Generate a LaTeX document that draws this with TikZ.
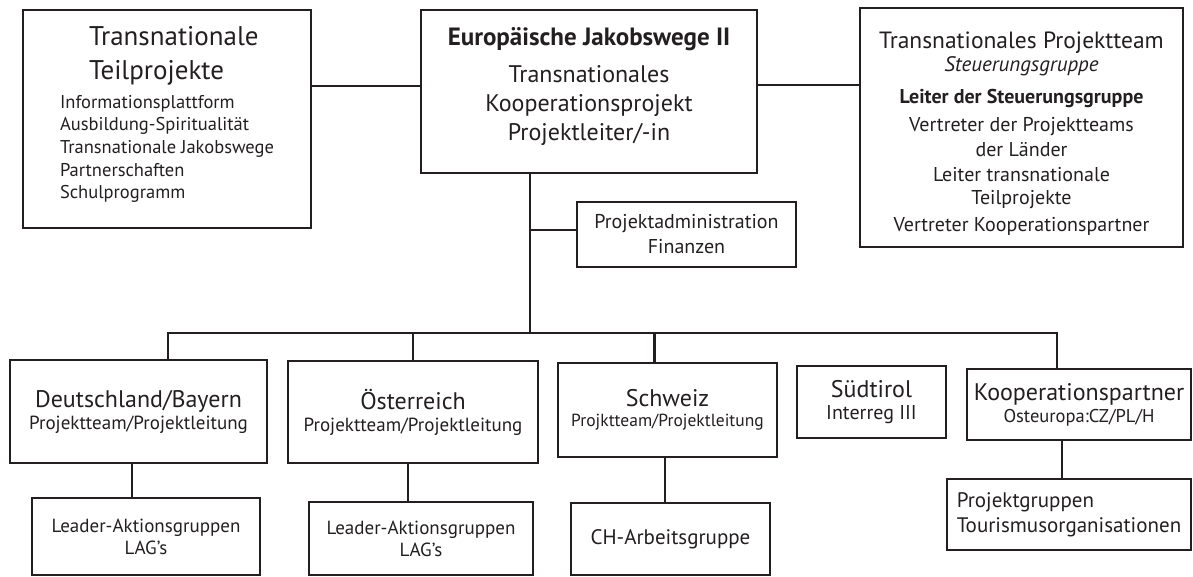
\documentclass[tikz,border=0pt]{standalone}
\usepackage{fontspec}
\setmainfont{PT Sans}
\usetikzlibrary{positioning}
\definecolor{ink}{RGB}{35,31,32}
\newcommand{\txtsize}[1]{\fontsize{#1}{#1}\selectfont}

\begin{document}
\begin{tikzpicture}[x=1pt, y=-1pt, color=ink,
  bigbox/.style={rectangle, draw, line width=2.6pt, inner sep=0pt, align=center},
  smallbox/.style={rectangle, draw, line width=1.3pt, inner sep=0pt, align=center},
  bus/.style={line width=2.6pt},
  link/.style={line width=1.3pt}]
\useasboundingbox (0,0) rectangle (1193,576);

% Top row
\node[bigbox, minimum width=288pt, minimum height=218pt, align=left, text depth=13pt,
  font=\fontsize{18}{22.7}\selectfont] (tp) at (167,119)
  {\txtsize{27}\hspace*{29pt}Transnationale\\[11.3pt]
   \txtsize{27}\hspace*{29pt}Teilprojekte\\[6.3pt]
   \txtsize{18.5}Informationsplattform\\
   \txtsize{18.5}Ausbildung-Spiritualität\\
   \txtsize{18.5}Transnationale Jakobswege\\
   \txtsize{18.5}Partnerschaften\\
   \txtsize{18.5}Schulprogramm};

\node[bigbox, minimum width=336pt, minimum height=163pt, text depth=15pt,
  font=\fontsize{24}{29}\selectfont] (jakob) at (589,91.5)
  {\txtsize{25}\bfseries Europäische Jakobswege II\\[8pt]
   Transnationales\\
   Kooperationsprojekt\\
   Projektleiter/-in};

\node[bigbox, minimum width=323pt, minimum height=239pt, text height=212pt,
  font=\fontsize{20}{25}\selectfont] (team) at (1021.5,127.5)
  {\txtsize{23.5}Transnationales Projektteam\\[-2pt]
   \txtsize{21}\itshape Steuerungsgruppe\\[7pt]
   \bfseries Leiter der Steuerungsgruppe\\[3pt]
   Vertreter der Projektteams\\
   der Länder\\
   Leiter transnationale\\[-2pt]
   Teilprojekte\\[2pt]
   Vertreter Kooperationspartner};

\node[smallbox, minimum width=219pt, minimum height=65pt,
  font=\fontsize{20}{25}\selectfont] (admin) at (686.5,234.5)
  {Projektadministration\\ Finanzen};

% Countries
\node[bigbox, minimum width=257pt, minimum height=103pt,
  font=\fontsize{19}{22}\selectfont] (de) at (138.5,411.5)
  {\txtsize{24}Deutschland/Bayern\\
   Projektteam/Projektleitung};
\node[bigbox, minimum width=250pt, minimum height=102pt,
  font=\fontsize{19}{22}\selectfont] (at) at (413,412)
  {\txtsize{24}Österreich\\
   Projektteam/Projektleitung};
\node[bigbox, minimum width=219pt, minimum height=94pt,
  font=\fontsize{17.5}{20}\selectfont] (ch) at (667.5,410)
  {\txtsize{24}Schweiz\\
   Projktteam/Projektleitung};
\node[smallbox, minimum width=149pt, minimum height=72pt,
  font=\fontsize{20}{22}\selectfont] (st) at (871.5,402)
  {\txtsize{24}Südtirol\\
   Interreg III};
\node[smallbox, minimum width=224pt, minimum height=71pt,
  font=\fontsize{18.5}{22}\selectfont] (koop) at (1079,404.5)
  {\txtsize{24}Kooperationspartner\\
   Osteuropa:CZ/PL/H};

% Working groups
\node[smallbox, minimum width=228pt, minimum height=77pt,
  font=\fontsize{19}{22}\selectfont] (lag1) at (146,536.5)
  {Leader-Aktionsgruppen\\ LAG’s};
\node[smallbox, minimum width=224pt, minimum height=73pt,
  font=\fontsize{19}{22}\selectfont] (lag2) at (421,538.5)
  {Leader-Aktionsgruppen\\ LAG’s};
\node[smallbox, minimum width=199pt, minimum height=72pt,
  font=\fontsize{21}{25}\selectfont] (chag) at (670.5,539)
  {CH-Arbeitsgruppe};
\node[smallbox, minimum width=244pt, minimum height=71pt, align=left,
  font=\fontsize{21}{25}\selectfont] (pg) at (1069,514.5)
  {Projektgruppen\\ Tourismusorganisationen};

% Connections
\coordinate (hub) at (530,333);
\coordinate (busL) at (168,333);
\coordinate (busR) at (1057,333);
\draw[bus] (tp.east |- 0,86) -- (jakob.west |- 0,86);
\draw[bus] (jakob.east |- 0,85) -- (team.west |- 0,85);
\draw[bus] (jakob.south -| hub) -- (hub);
\draw[link] (hub |- 0,230) -- ([yshift=4.5pt]admin.west);
\draw[bus] (de.north -| busL) -- (busL) -- (busR) -- (koop.north -| busR);
\draw[bus] (at.north) -- (at.north |- hub);
\draw[bus] ([xshift=-13pt]ch.north) -- ([xshift=-13pt]ch.north |- hub);
\draw[link] ([xshift=-14pt]lag1.north) -- ([xshift=-14pt]lag1.north |- de.south);
\draw[link] ([xshift=-13pt]lag2.north) -- ([xshift=-13pt]lag2.north |- at.south);
\draw[link] ([xshift=-5.5pt]chag.north) -- ([xshift=-5.5pt]chag.north |- ch.south);
\draw[bus] ([xshift=-7pt]pg.north) -- ([xshift=-7pt]pg.north |- koop.south);

\end{tikzpicture}
\end{document}
